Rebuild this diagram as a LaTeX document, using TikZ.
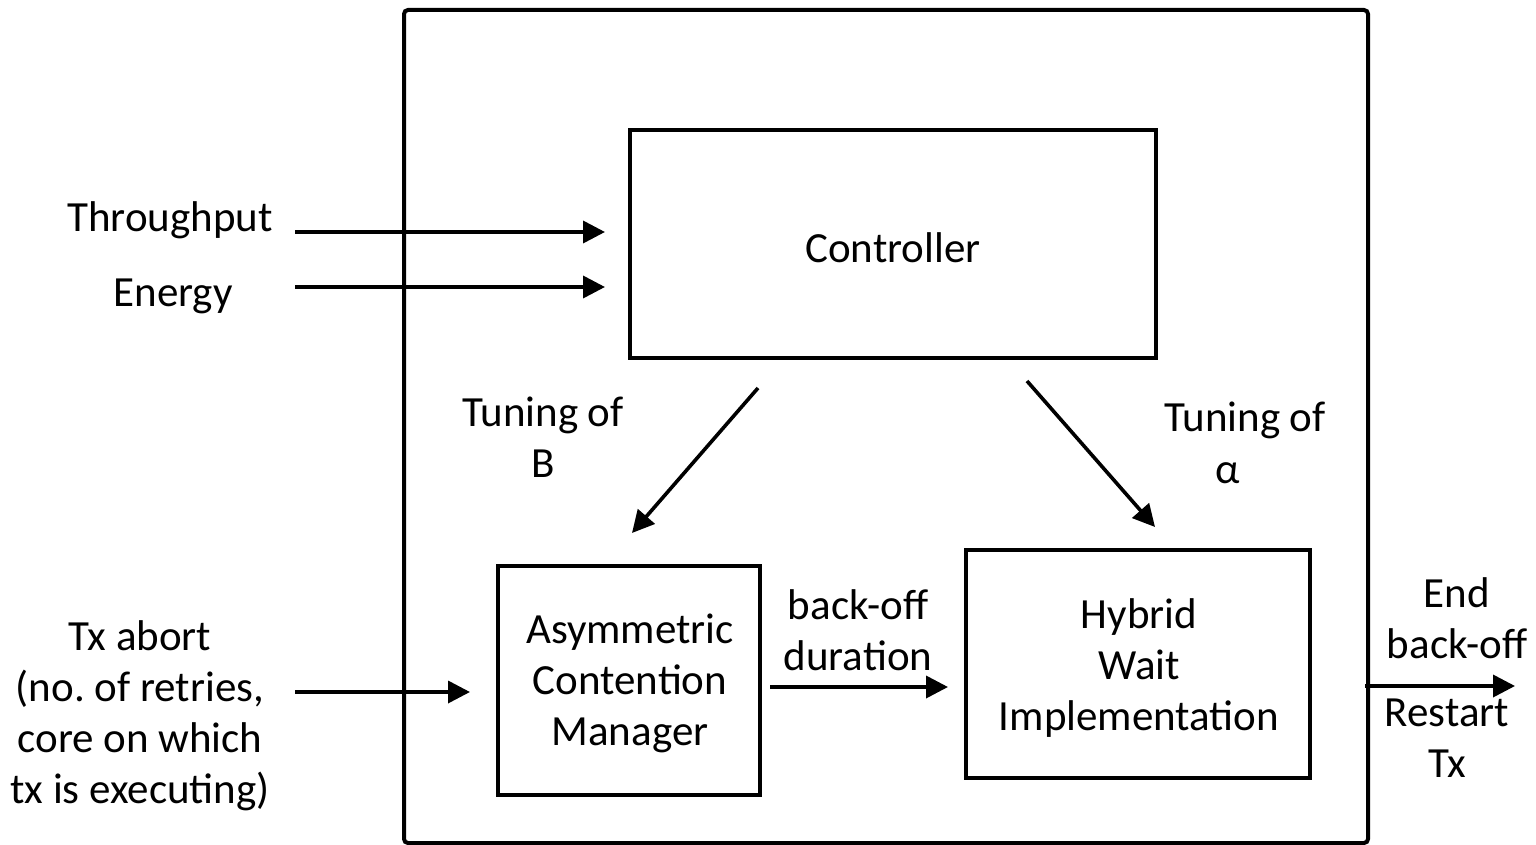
\documentclass[tikz,border=0pt]{standalone}
\usepackage{fontspec}
\setmainfont{Carlito}
\usetikzlibrary{arrows.meta}
\begin{document}
\frenchspacing
\begin{tikzpicture}[x=0.5pt,y=-0.5pt,
  lbl/.style={font=\fontsize{21.5}{25.5}\selectfont, inner sep=0pt, align=center},
  blk/.style={draw, line width=1.6pt},
  arr/.style={line width=1.8pt, -{Triangle[length=11pt,width=11pt]}}]
\useasboundingbox (0,0) rectangle (1536,845);
% enclosing system boundary
\draw[line width=2pt, rounded corners=2pt] (404,10) rectangle (1368,843);
% functional blocks
\draw[blk] (630,130) rectangle (1156,358);
\node[lbl] (ctrl) at (893,248) {Controller};
\draw[blk] (498,566) rectangle (760,795);
\node[lbl] (acm) at (630,683) {Asymmetric\\Contention\\Manager};
\draw[blk] (966,550) rectangle (1310,778);
\node[lbl] (hwi) at (1139,668) {Hybrid\\Wait\\Implementation};
% inputs
\node[lbl] (thr) at (170,220) {Throughput};
\node[lbl] (en) at (173,296) {Energy};
\node[lbl] (tx) at (140,716) {Tx abort\\(no. of retries,\\core on which\\tx is executing)};
\coordinate (thrA) at (295,232); \coordinate (thrB) at (605,232);
\coordinate (enA) at (295,287); \coordinate (enB) at (605,287);
\coordinate (txA) at (295,692); \coordinate (txB) at (470,692);
\draw[arr] (thrA) -- (thrB);
\draw[arr] (enA) -- (enB);
\draw[arr] (txA) -- (txB);
% tuning paths
\coordinate (dlA) at (758,388); \coordinate (dlB) at (632,533);
\coordinate (drA) at (1027,381); \coordinate (drB) at (1155,527);
\draw[arr] (dlA) -- (dlB);
\draw[arr] (drA) -- (drB);
\node[lbl] (tb) at (543,437) {Tuning of\\B};
\node[lbl] (ta) at (1245,420) {Tuning of};
\node[lbl] (alpha) at (1228,473) {α};
% back-off duration
\node[lbl] (bo) at (858,630) {back-off\\duration};
\coordinate (boA) at (770,687); \coordinate (boB) at (948,687);
\draw[arr] (boA) -- (boB);
% output
\coordinate (outA) at (1365,686); \coordinate (outB) at (1515,686);
\draw[arr] (outA) -- (outB);
\node[lbl] (end) at (1457,618) {End\\back-off};
\node[lbl] (rst) at (1447,738) {Restart\\Tx};
\end{tikzpicture}
\end{document}
